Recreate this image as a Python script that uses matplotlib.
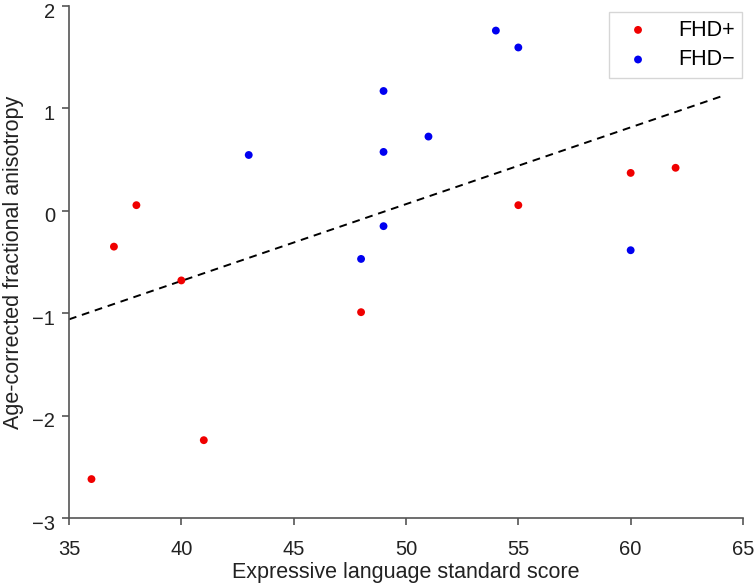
import matplotlib.pyplot as plt
import matplotlib.transforms as mtransforms

# FHD+ group (red)
fhd_pos_x = [36, 37, 38, 40, 41, 48, 55, 60, 62]
fhd_pos_y = [-2.62, -0.35, 0.055, -0.68, -2.24, -0.99, 0.055, 0.37, 0.42]

# FHD- group (blue)
fhd_neg_x = [43, 48, 49, 49, 49, 51, 54, 55, 60]
fhd_neg_y = [0.545, -0.47, 1.17, 0.575, -0.15, 0.725, 1.76, 1.595, -0.385]

# regression line
fit_x = [35, 64]
fit_y = [-1.06, 1.115]

x_ticks = [35, 40, 45, 50, 55, 60, 65]
y_ticks = [-3, -2, -1, 0, 1, 2]

plt.rcParams['font.family'] = ['Liberation Sans', 'DejaVu Sans']

fig = plt.figure(figsize=(7.56, 5.85), dpi=100)
ax = fig.add_axes([69 / 756, 67 / 585, 674 / 756, 512 / 585])

ax.plot(fit_x, fit_y, color='black', linestyle=(0, (4, 3)), linewidth=1.4, zorder=2)
ax.scatter(fhd_pos_x, fhd_pos_y, s=32, color='#f00000', edgecolors='none',
           label='FHD+', zorder=3, clip_on=False)
ax.scatter(fhd_neg_x, fhd_neg_y, s=32, color='#0000f0', edgecolors='none',
           label='FHD\u2212', zorder=3, clip_on=False)

ax.set_xlim(35, 65)
ax.set_ylim(-3, 2)
ax.set_xticks(x_ticks)
ax.set_yticks(y_ticks)
ax.set_yticklabels([str(v).replace('-', '\u2212') for v in y_ticks])

for side in ['top', 'right']:
    ax.spines[side].set_visible(False)
for side in ['left', 'bottom']:
    ax.spines[side].set_color('#555555')
    ax.spines[side].set_linewidth(1.2)
ax.tick_params(direction='out', length=5, width=1.2, color='#555555',
               labelsize=14.5, labelcolor='#222222')
ax.tick_params(axis='x', pad=11)
ax.tick_params(axis='y', pad=5)

# R-style: y tick labels sit a little below their ticks
shift = mtransforms.ScaledTranslation(0, -4 / 100, fig.dpi_scale_trans)
for lbl in ax.get_yticklabels():
    lbl.set_transform(lbl.get_transform() + shift)

ax.set_xlabel('Expressive language standard score', fontsize=15.5, color='#222222', labelpad=2)
ax.set_ylabel('Age-corrected fractional anisotropy', fontsize=15.5, color='#222222', labelpad=6)

leg = ax.legend(loc='upper right', bbox_to_anchor=(742 / 756, 573 / 585),
                bbox_transform=fig.transFigure, fontsize=15.5, frameon=True,
                fancybox=False, edgecolor='#cccccc', borderpad=0.35,
                handlelength=2.0, handletextpad=0.85, labelspacing=0.4,
                borderaxespad=0)
leg.get_frame().set_linewidth(1.0)

fig.savefig('out.png', dpi=100)
